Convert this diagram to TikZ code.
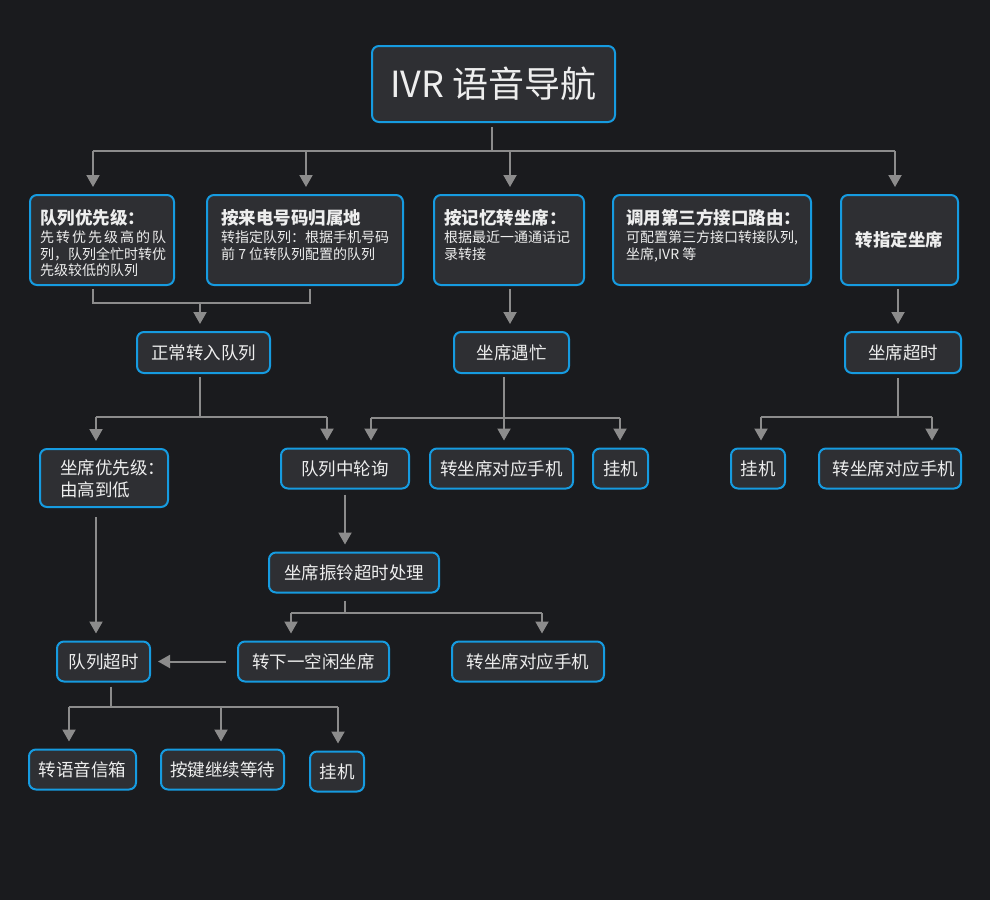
\documentclass[tikz,border=0pt]{standalone}
\usepackage{fontspec}
\setmainfont{Noto Sans CJK SC}
\usetikzlibrary{arrows.meta}
\definecolor{bgc}{RGB}{26,27,30}
\definecolor{boxfill}{RGB}{46,47,51}
\definecolor{boxline}{RGB}{22,155,224}
\definecolor{conn}{RGB}{140,140,140}
\definecolor{txt}{RGB}{238,238,238}
\tikzset{
  box/.style={draw=boxline, line width=2pt, fill=boxfill, rounded corners=7pt, inner sep=0pt, text=txt, font=\fontsize{17.5}{21}\selectfont},
  bigt/.style={font=\fontsize{17.5}{21}\selectfont\bfseries, text=txt, inner sep=0pt, anchor=base west},
  smallt/.style={font=\fontsize{14}{16}\selectfont, text=txt, inner sep=0pt, anchor=base west},
  normt/.style={font=\fontsize{17.5}{21}\selectfont, text=txt, inner sep=0pt, anchor=base west},
  line/.style={draw=conn, line width=2pt},
  arr/.style={line, -{Triangle[width=13pt,length=12pt]}, shorten >=7pt},
}
\begin{document}
\begin{tikzpicture}[x=1pt,y=-1pt]
\fill[bgc] (0,0) rectangle (990,900);
\useasboundingbox (0,0) rectangle (990,900);

% title
\node[box, minimum width=243pt, minimum height=76pt, font=\fontsize{36}{40}\selectfont] (title) at (493.5,84) {IVR 语音导航};

% level 1 boxes
\node[box, minimum width=144pt, minimum height=90pt] (A) at (102,240) {};
\node[box, minimum width=196pt, minimum height=90pt] (B) at (305,240) {};
\node[box, minimum width=150pt, minimum height=90pt] (C) at (509,240) {};
\node[box, minimum width=198pt, minimum height=90pt] (D) at (712,240) {};
\node[box, minimum width=117pt, minimum height=90pt, font=\fontsize{17.5}{21}\selectfont\bfseries] (E) at (899.5,240) {转指定坐席};

\node[bigt] (A0) at (40,224) {队列优先级：};
\node[smallt] (A1) at (40,242.8) {\makebox[126pt][s]{先\hfil 转\hfil 优\hfil 先\hfil 级\hfil 高\hfil 的\hfil 队}};
\node[smallt] (A2) at (40,259.3) {列，队列全忙时转优};
\node[smallt] (A3) at (40,275.8) {先级较低的队列};

\node[bigt] (B0) at (221,224) {按来电号码归属地};
\node[smallt] (B1) at (221,242.8) {转指定队列：根据手机号码};
\node[smallt] (B2) at (221,259.3) {前 7 位转队列配置的队列};

\node[bigt] (C0) at (444,224) {按记忆转坐席：};
\node[smallt] (C1) at (444,242.8) {根据最近一通通话记};
\node[smallt] (C2) at (444,259.3) {录转接};

\node[bigt] (D0) at (626,224) {调用第三方接口路由：};
\node[smallt] (D1) at (626,242.8) {可配置第三方接口转接队列,};
\node[smallt] (D2) at (626,259.3) {坐席,IVR 等};

% level 2
\node[box, minimum width=133pt, minimum height=41pt] (N1) at (203.5,352.5) {正常转入队列};
\node[box, minimum width=115pt, minimum height=41pt] (N2) at (511.5,352.5) {坐席遇忙};
\node[box, minimum width=116pt, minimum height=41pt] (N3) at (903,352.5) {坐席超时};

% level 3
\node[box, minimum width=128pt, minimum height=58pt] (P1) at (104,478) {};
\node[normt] (P1a) at (60,474.2) {坐席优先级：};
\node[normt] (P1b) at (60,496.7) {由高到低};
\node[box, minimum width=128pt, minimum height=40pt] (P2) at (345,468.5) {队列中轮询};
\node[box, minimum width=143pt, minimum height=40pt] (P3) at (501.5,468.5) {转坐席对应手机};
\node[box, minimum width=55pt, minimum height=40pt] (P4) at (620.5,468.5) {挂机};
\node[box, minimum width=54pt, minimum height=40pt] (P5) at (758,468.5) {挂机};
\node[box, minimum width=142pt, minimum height=40pt] (P6) at (890,468.5) {\hspace*{8pt}转坐席对应手机};

% level 4
\node[box, minimum width=170pt, minimum height=40pt] (R1) at (354,572.5) {坐席振铃超时处理};

% level 5
\node[box, minimum width=93pt, minimum height=40pt] (Q1) at (103.5,661.5) {队列超时};
\node[box, minimum width=151pt, minimum height=40pt] (Q2) at (313.5,661.5) {转下一空闲坐席};
\node[box, minimum width=152pt, minimum height=40pt] (Q3) at (528,661.5) {转坐席对应手机};

% level 6
\node[box, minimum width=107pt, minimum height=40pt] (S1) at (82.5,769.5) {转语音信箱};
\node[box, minimum width=123pt, minimum height=40pt] (S2) at (222.5,769.5) {按键继续等待};
\node[box, minimum width=54pt, minimum height=40pt] (S3) at (337,771.5) {挂机};

% connectors: title -> level 1
\coordinate (t0) at (492,151);
\coordinate (t1) at (93,151);
\coordinate (t2) at (306,151);
\coordinate (t3) at (510,151);
\coordinate (t4) at (895,151);
\draw[line, shorten <=4pt] (title.south -| t0) -- (t0);
\draw[line] (t1) -- (t4);
\draw[arr] (t1) -- (t1 |- A.north);
\draw[arr] (t2) -- (t2 |- B.north);
\draw[arr] (t3) -- (t3 |- C.north);
\draw[arr] (t4) -- (t4 |- E.north);

% A,B -> N1
\coordinate (ab1) at (93,303);
\coordinate (ab2) at (310,303);
\coordinate (ab3) at (200,303);
\draw[line, shorten <=3pt, shorten >=3pt] (A.south -| ab1) -- (ab1) -- (ab2) -- (B.south -| ab2);
\draw[arr] (ab3) -- (ab3 |- N1.north);

% C -> N2, E -> N3
\coordinate (cc) at (510,0);
\coordinate (ee) at (898,0);
\draw[arr, shorten <=3pt] (C.south -| cc) -- (cc |- N2.north);
\draw[arr, shorten <=3pt] (E.south -| ee) -- (ee |- N3.north);

% N1 -> P1, P2
\coordinate (n1b) at (200,417);
\coordinate (n1l) at (96,417);
\coordinate (n1r) at (327,417);
\draw[line, shorten <=3pt] (N1.south -| n1b) -- (n1b);
\draw[line] (n1l) -- (n1r);
\draw[arr] (n1l) -- (n1l |- P1.north);
\draw[arr] (n1r) -- (n1r |- P2.north);

% N2 -> P2, P3, P4
\coordinate (n2b) at (504,418);
\coordinate (n2l) at (371,418);
\coordinate (n2r) at (620,418);
\draw[line, shorten <=3pt] (N2.south -| n2b) -- (n2b);
\draw[line] (n2l) -- (n2r);
\draw[arr] (n2l) -- (n2l |- P2.north);
\draw[arr] (n2b) -- (n2b |- P3.north);
\draw[arr] (n2r) -- (n2r |- P4.north);

% N3 -> P5, P6
\coordinate (n3b) at (898,417);
\coordinate (n3l) at (761,417);
\coordinate (n3r) at (932,417);
\draw[line, shorten <=4pt] (N3.south -| n3b) -- (n3b);
\draw[line] (n3l) -- (n3r);
\draw[arr] (n3l) -- (n3l |- P5.north);
\draw[arr] (n3r) -- (n3r |- P6.north);

% P2 -> R1
\draw[arr, shorten <=5pt] (P2.south) -- (P2.south |- R1.north);

% P1 -> Q1
\coordinate (pq) at (96,0);
\draw[arr, shorten <=9pt] (P1.south -| pq) -- (pq |- Q1.north);

% R1 -> Q2, Q3
\coordinate (rb) at (345,613);
\coordinate (rl) at (291,613);
\coordinate (rr) at (542,613);
\draw[line, shorten <=7pt] (R1.south -| rb) -- (rb);
\draw[line] (rl) -- (rr);
\draw[arr] (rl) -- (rl |- Q2.north);
\draw[arr] (rr) -- (rr |- Q3.north);

% Q2 -> Q1
\draw[arr, shorten <=11pt] (Q2.west) -- (Q1.east);

% Q1 -> S1, S2, S3
\coordinate (qb) at (111,707);
\coordinate (ql) at (69,707);
\coordinate (qm) at (221,707);
\coordinate (qr) at (338,707);
\draw[line, shorten <=4pt] (Q1.south -| qb) -- (qb);
\draw[line] (ql) -- (qr);
\draw[arr] (ql) -- (ql |- S1.north);
\draw[arr] (qm) -- (qm |- S2.north);
\draw[arr] (qr) -- (qr |- S3.north);
\end{tikzpicture}
\end{document}
